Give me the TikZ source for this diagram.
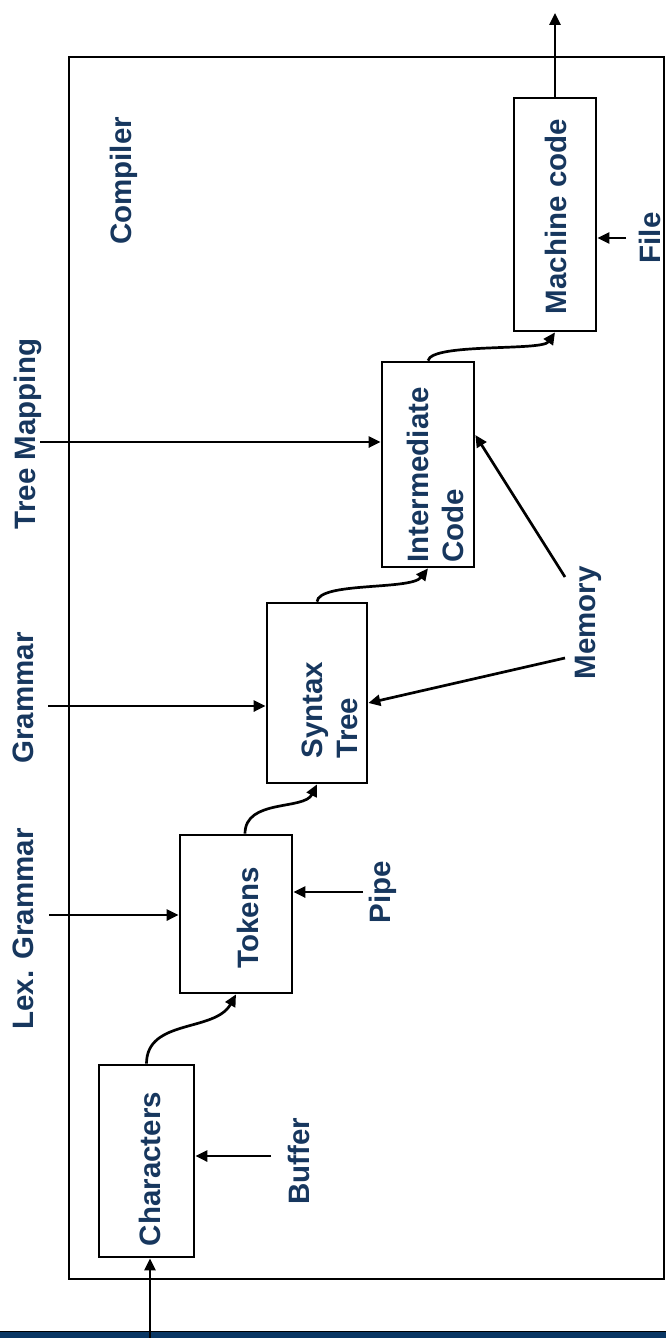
\documentclass[tikz,border=0pt]{standalone}
\usepackage{fontspec}
\setmainfont{Liberation Sans}
\usetikzlibrary{arrows.meta,calc}
\definecolor{navy}{HTML}{17375E}
\definecolor{barblue}{HTML}{0A3764}
\begin{document}
\begin{tikzpicture}[x=1pt,y=-1pt,
  box/.style={draw,line width=2.7pt,inner sep=0pt},
  lbl/.style={text=navy,font=\bfseries\fontsize{29.5}{35}\selectfont,rotate=90,inner sep=0pt,align=left},
  arr/.style={line width=2.7pt,-{Triangle[length=12pt,width=11pt]}}]
\useasboundingbox (0,0) rectangle (666,1338);

% footer band
\fill[barblue] (0,1331) rectangle (666,1338);
\draw[line width=0.8pt] (0,1331) -- (666,1331);

% compiler frame
\node[box,minimum width=595pt,minimum height=1222pt] (compiler) at (366.5,668) {};
\node[lbl] (compilerL) at (124,181) {Compiler};

% stage boxes
\node[box,minimum width=95pt,minimum height=192pt] (chars) at (146.5,1161) {};
\node[box,minimum width=112pt,minimum height=158pt] (tokens) at (236,914) {};
\node[box,minimum width=100pt,minimum height=180pt] (syntax) at (317,693) {};
\node[box,minimum width=92pt,minimum height=205pt] (inter) at (428,464.5) {};
\node[box,minimum width=82pt,minimum height=233pt] (mach) at (555,214.5) {};

% stage texts
\node[lbl] (charsL) at (150,1169) {Characters};
\node[lbl] (tokensL) at (248,918) {Tokens};
\node[lbl] (syntaxL) at (330,710) {Syntax\\Tree};
\node[lbl] (interL) at (435.5,475) {Intermediate\\Code};
\node[lbl] (machL) at (555.5,216.5) {Machine code};

% side labels
\node[lbl] (treemapL) at (28,434) {Tree Mapping};
\node[lbl] (grammarL) at (23,698) {Grammar};
\node[lbl] (lexL) at (23,929) {Lex. Grammar};
\node[lbl] (memoryL) at (588,623) {Memory};
\node[lbl] (pipeL) at (383,892) {Pipe};
\node[lbl] (bufferL) at (299,1161) {Buffer};
\node[lbl] (fileL) at (650,238) {File};

% free ends of connectors
\coordinate (src) at (150,1338);
\coordinate (sink) at (555,13);
\coordinate (treemapA) at (40,442);
\coordinate (grammarA) at (48,706);
\coordinate (lexA) at (49,915);
\coordinate (pipeA) at (363,892);
\coordinate (bufferA) at (271,1156);
\coordinate (fileA) at (626,238);
\coordinate (memA) at (565,577);
\coordinate (memB) at (565,658);

% main flow
\draw[arr] (src) -- (src |- chars.south);
\draw[arr] (chars.north) .. controls +(0,-45) and +(-21,38) .. (tokens.south);
\draw[arr] ($(tokens.north)+(9,0)$) .. controls +(0,-35) and +(-13,26) .. (syntax.south);
\draw[arr] (syntax.north) .. controls +(2,-20) and +(-17,22) .. (inter.south);
\draw[arr] (inter.north) .. controls +(4,-18) and +(-13,19) .. (mach.south);
\draw[arr] (mach.north) -- (sink);

% inputs
\draw[arr] (treemapA) -- (treemapA -| inter.west);
\draw[arr] (grammarA) -- (grammarA -| syntax.west);
\draw[arr] (lexA) -- (lexA -| tokens.west);
\draw[arr] (pipeA) -- (pipeA -| tokens.east);
\draw[arr] (bufferA) -- (bufferA -| chars.east);
\draw[arr] (fileA) -- (fileA -| mach.east);
\draw[arr] (memA) -- ($(inter.east)+(0,-29.5)$);
\draw[arr] (memB) -- ($(syntax.east)+(0,10)$);
\end{tikzpicture}
\end{document}
